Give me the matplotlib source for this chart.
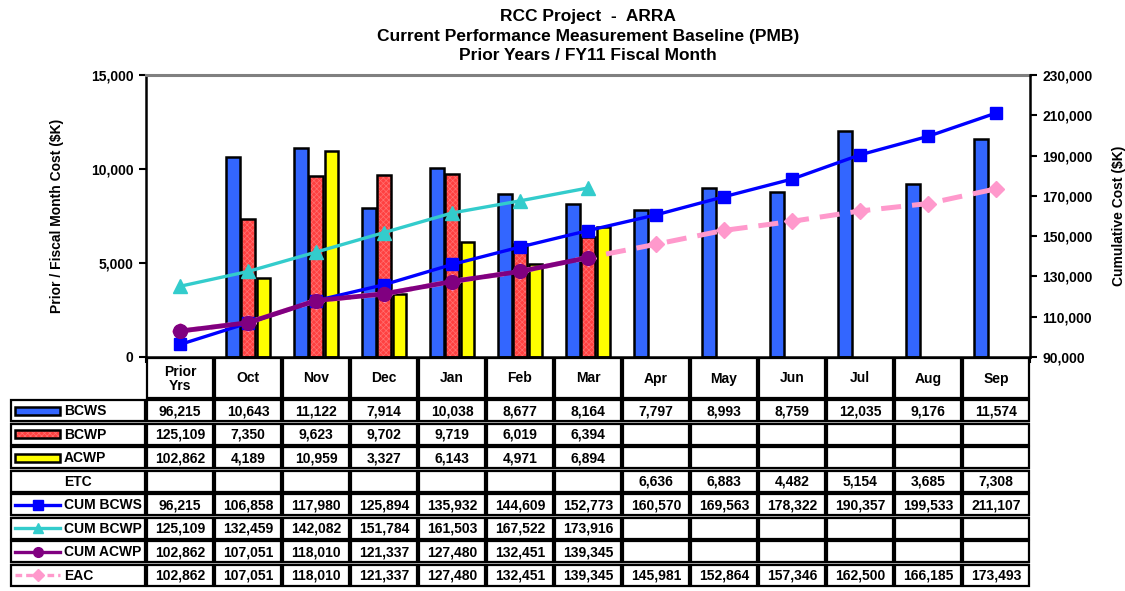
import numpy as np
import matplotlib
matplotlib.use("Agg")
from matplotlib import pyplot as plt
from matplotlib.patches import Rectangle
from matplotlib.lines import Line2D

plt.rcParams["font.family"] = ["Liberation Sans", "DejaVu Sans"]
plt.rcParams["font.weight"] = "bold"
plt.rcParams["hatch.linewidth"] = 0.5

# ---- data ----
months = ["Prior\nYrs", "Oct", "Nov", "Dec", "Jan", "Feb", "Mar",
          "Apr", "May", "Jun", "Jul", "Aug", "Sep"]
bcws = [96215, 10643, 11122, 7914, 10038, 8677, 8164, 7797, 8993, 8759, 12035, 9176, 11574]
bcwp = [125109, 7350, 9623, 9702, 9719, 6019, 6394]
acwp = [102862, 4189, 10959, 3327, 6143, 4971, 6894]
etc = [None, None, None, None, None, None, None, 6636, 6883, 4482, 5154, 3685, 7308]
cum_bcws = [96215, 106858, 117980, 125894, 135932, 144609, 152773,
            160570, 169563, 178322, 190357, 199533, 211107]
cum_bcwp = [125109, 132459, 142082, 151784, 161503, 167522, 173916]
cum_acwp = [102862, 107051, 118010, 121337, 127480, 132451, 139345]
eac = [102862, 107051, 118010, 121337, 127480, 132451, 139345,
       145981, 152864, 157346, 162500, 166185, 173493]

row_names = ["BCWS", "BCWP", "ACWP", "ETC", "CUM BCWS", "CUM BCWP", "CUM ACWP", "EAC"]
row_data = [bcws, bcwp, acwp, etc, cum_bcws, cum_bcwp, cum_acwp, eac]

# colours
c_bcws = "#3366FF"
c_bcwp = "#FF4040"
c_bcwp_dots = "#FF7070"
c_acwp = "#FFFF00"
c_cbcws = "#0000FF"
c_cbcwp = "#33CCCC"
c_cacwp = "#800080"
c_eac = "#FF99CC"

W, H = 1125, 591
fig = plt.figure(figsize=(W / 100, H / 100), dpi=100)

# plot area in pixels
L, R, T, B = 146, 1030, 75, 357
ax = fig.add_axes([L / W, 1 - B / H, (R - L) / W, (B - T) / H])
n = len(months)
x = np.arange(n)

# bars (prior years column is cumulative, not drawn)
off = 0.225
bw = 0.2
ax.bar(x[1:] - off, bcws[1:], width=bw, color=c_bcws, edgecolor="black", linewidth=1.8, zorder=2)
xb = x[1:len(bcwp)]
ax.bar(xb, bcwp[1:], width=bw, color=c_bcwp, edgecolor=c_bcwp_dots, hatch="xxxxxx", linewidth=0, zorder=2)
ax.bar(xb, bcwp[1:], width=bw, fill=False, edgecolor="black", linewidth=1.8, zorder=3)
xa = x[1:len(acwp)]
ax.bar(xa + off, acwp[1:], width=bw, color=c_acwp, edgecolor="black", linewidth=1.8, zorder=2)

ax.set_xlim(-0.5, n - 0.5)
ax.set_ylim(0, 15000)
ax.set_yticks([0, 5000, 10000, 15000])
ax.set_yticklabels([f"{v:,}" for v in [0, 5000, 10000, 15000]], fontsize=10, fontweight="bold")
ax.set_xticks(np.arange(-0.5, n, 1.0))
ax.set_xticklabels([])
ax.tick_params(axis="x", length=4, width=1.5, direction="out")
ax.tick_params(axis="y", length=5, width=1.5, direction="out", pad=4)
ax.spines["top"].set_color("#808080")
ax.spines["top"].set_linewidth(2.2)
for s in ["left", "bottom"]:
    ax.spines[s].set_linewidth(1.8)
ax.spines["right"].set_visible(False)

# cumulative lines on right axis
ax2 = ax.twinx()
ax2.plot(x, eac, color=c_eac, lw=3.6, ls=(0, (4, 2.2)), marker="D", ms=8.5,
         mec=c_eac, zorder=2)
ax2.plot(x, cum_bcws, color=c_cbcws, lw=2.4, marker="s", ms=8.5, zorder=3)
ax2.plot(x[:len(cum_bcwp)], cum_bcwp, color=c_cbcwp, lw=2.4, marker="^", ms=10, zorder=3)
ax2.plot(x[:len(cum_acwp)], cum_acwp, color=c_cacwp, lw=3.4, marker="o", ms=10, zorder=4)
ax2.set_ylim(90000, 230000)
rt = np.arange(90000, 230001, 20000)
ax2.set_yticks(rt)
ax2.set_yticklabels([f"{v:,}" for v in rt], fontsize=10, fontweight="bold")
ax2.tick_params(axis="y", length=5, width=1.5, direction="out", pad=4)
ax2.spines["right"].set_linewidth(1.8)
ax2.spines["top"].set_visible(False)
ax2.spines["left"].set_visible(False)
ax2.spines["bottom"].set_visible(False)

ax.set_ylabel("Prior / Fiscal Month Cost ($K)", fontsize=10, fontweight="bold", labelpad=19)
ax2.set_ylabel("Cumulative Cost ($K)", fontsize=10, fontweight="bold", labelpad=14)

# title
cx = (L + R) / 2 / W
for i, t in enumerate(["RCC Project  -  ARRA",
                       "Current Performance Measurement Baseline (PMB)",
                       "Prior Years / FY11 Fiscal Month"]):
    fig.text(cx, 1 - (16 + 20 * i) / H, t, ha="center", va="center",
             fontsize=12.5, fontweight="bold")

# ---- data table drawn in pixel space ----
tab = fig.add_axes([0, 0, 1, 1], zorder=-1)
tab.set_xlim(0, W)
tab.set_ylim(H, 0)
tab.axis("off")

cw = (R - L) / n
hdr_top, hdr_bot = B, 399
row_h = (587 - hdr_bot) / len(row_names)
lab_left = 10
gap = "#C8C8C8"


def cell(x0, y0, w, h, text=None, align="center", tx=None):
    tab.add_patch(Rectangle((x0, y0), w, h, fc=gap, ec="none"))
    tab.add_patch(Rectangle((x0 + 1.2, y0 + 1.2), w - 2.4, h - 2.4,
                            fc="white", ec="black", lw=1.6))
    if text:
        xt = x0 + w / 2 if tx is None else tx
        tab.text(xt, y0 + h / 2 + 0.5, text, ha=align, va="center",
                 fontsize=10, fontweight="bold", linespacing=1.0)


for j, m in enumerate(months):
    cell(L + j * cw, hdr_top, cw, hdr_bot - hdr_top, m)

for i, (name, vals) in enumerate(zip(row_names, row_data)):
    y0 = hdr_bot + i * row_h
    cell(lab_left, y0, L - lab_left, row_h, name, align="left", tx=64)
    for j in range(n):
        v = vals[j] if j < len(vals) else None
        cell(L + j * cw, y0, cw, row_h, f"{v:,}" if v is not None else None)

# legend keys inside the label column
kx0, kx1 = 15, 60
bar_keys = {0: (c_bcws, None), 1: (c_bcwp, "xxxxxx"), 2: (c_acwp, None)}
for i, (fc, hatch) in bar_keys.items():
    yc = hdr_bot + i * row_h + row_h / 2
    if hatch:
        tab.add_patch(Rectangle((kx0, yc - 4), kx1 - kx0, 8, fc=fc, ec=c_bcwp_dots,
                                hatch=hatch, lw=0))
        tab.add_patch(Rectangle((kx0, yc - 4), kx1 - kx0, 8, fill=False, ec="black", lw=1.8))
    else:
        tab.add_patch(Rectangle((kx0, yc - 4), kx1 - kx0, 8, fc=fc, ec="black", lw=1.8))

line_keys = {4: (c_cbcws, "s", "-", 2.4, 7), 5: (c_cbcwp, "^", "-", 2.4, 7),
             6: (c_cacwp, "o", "-", 2.4, 7), 7: (c_eac, "D", (0, (2, 1.2)), 2.4, 6)}
for i, (c, mk, ls, lw, ms) in line_keys.items():
    yc = hdr_bot + i * row_h + row_h / 2
    tab.add_line(Line2D([kx0, kx1], [yc, yc], color=c, lw=lw, ls=ls))
    tab.add_line(Line2D([(kx0 + kx1) / 2], [yc], color=c, marker=mk, ms=ms, mec=c))

fig.savefig("out.png", dpi=100)
